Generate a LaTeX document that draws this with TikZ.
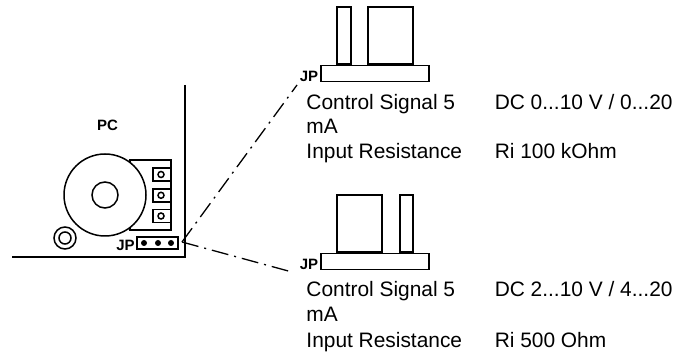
\documentclass[tikz,border=0pt]{standalone}
\usepackage{fontspec}
\setmainfont{Liberation Sans}
\usetikzlibrary{positioning}
\tikzset{
  jumper schemes/.style = {
    x=1pt, y=-1pt,
    line width = 1.5pt,
    % Text
    txt/.style     = {anchor=base west, inner sep=0pt, font=\fontsize{20.9}{24}\selectfont},
    jplabel/.style = {inner sep=0pt, font=\fontsize{15}{17}\selectfont\bfseries},
    % Board parts
    pin/.style     = {draw, fill=white, minimum height=57pt, anchor=south west, inner sep=0pt},
    base/.style    = {draw, fill=white, minimum width=108pt, minimum height=16pt, anchor=north west, inner sep=0pt},
    socket/.style  = {draw, fill=white, minimum width=18pt, minimum height=13pt, inner sep=0pt},
    hole/.style    = {draw, circle, minimum size=6pt, inner sep=0pt},
    dot/.style     = {fill, circle, minimum size=6pt, inner sep=0pt},
    % Lines
    signal line/.style = {line width=1.3pt, dash pattern=on 17pt off 6pt on 2pt off 6pt},
  }
}
\begin{document}
\begin{tikzpicture}[jumper schemes]
\useasboundingbox (0,0) rectangle (682,352);

% Board
\coordinate (boardtop) at (185,85);
\coordinate (boardcorner) at (185,257);
\coordinate (boardleft) at (12,257);
\draw (boardtop) -- (boardcorner) -- (boardleft);
\node[jplabel] (pclabel) at (107.5,125.5) {PC};

% Transformer
\node[draw, minimum width=41pt, minimum height=70pt, inner sep=0pt] (block) at (150.5,195) {};
\node[draw, circle, fill=white, minimum size=82pt, inner sep=0pt] (coil) at (105,195) {};
\node[draw, circle, minimum size=26pt, inner sep=0pt] (coilcore) at (coil) {};
\foreach \n/\y in {1/174.5,2/195.3,3/216} {
  \node[socket] (socket\n) at (162,\y) {};
  \node[hole] (hole\n) at (161,\y) {};
}
\node[draw, circle, minimum size=22pt, inner sep=0pt] (ringout) at (65,238) {};
\node[draw, circle, minimum size=12pt, inner sep=0pt] (ringin) at (ringout) {};

% Jumper on board
\node[draw, minimum width=41pt, minimum height=12pt, inner sep=0pt] (jp) at (157.5,243) {};
\foreach \n/\x in {1/144,2/158,3/171}
  \node[dot] (jpdot\n) at (\x,243) {};
\node[jplabel, anchor=south east] (jplabel) at (135.5,251.5) {JP};

% Upper setting
\node[base] (topbase) at (320,65) {};
\node[pin, minimum width=14pt] (toppina) at (336,65) {};
\node[pin, minimum width=45pt] (toppinb) at (367,65) {};
\node[jplabel, left=1pt of topbase.south west, anchor=south east] (topjp) {JP};
\node[txt] (topsig) at (305.7,110) {Control Signal 5};
\node[txt] (topval) at (494,110) {DC 0...10 V / 0...20};
\node[txt] (topma) at (305.7,134) {mA};
\node[txt] (topres) at (305.7,159) {Input Resistance};
\node[txt] (topri) at (494,159) {Ri 100 kOhm};

% Lower setting
\node[base] (lowbase) at (320,253) {};
\node[pin, minimum width=45pt] (lowpina) at (336,253) {};
\node[pin, minimum width=13pt] (lowpinb) at (399,253) {};
\node[jplabel, left=1pt of lowbase.south west, anchor=south east] (lowjp) {JP};
\node[txt] (lowsig) at (305.7,297) {Control Signal 5};
\node[txt] (lowval) at (494,297) {DC 2...10 V / 4...20};
\node[txt] (lowma) at (305.7,322) {mA};
\node[txt] (lowres) at (305.7,347) {Input Resistance};
\node[txt] (lowri) at (494,347) {Ri 500 Ohm};

% Connections
\coordinate (jpout) at (182,242);
\coordinate (topend) at (297,85);
\coordinate (lowend) at (292,272);
\draw[signal line] (jpout) -- (topend);
\draw[signal line] (jpout) -- (lowend);
\end{tikzpicture}
\end{document}
